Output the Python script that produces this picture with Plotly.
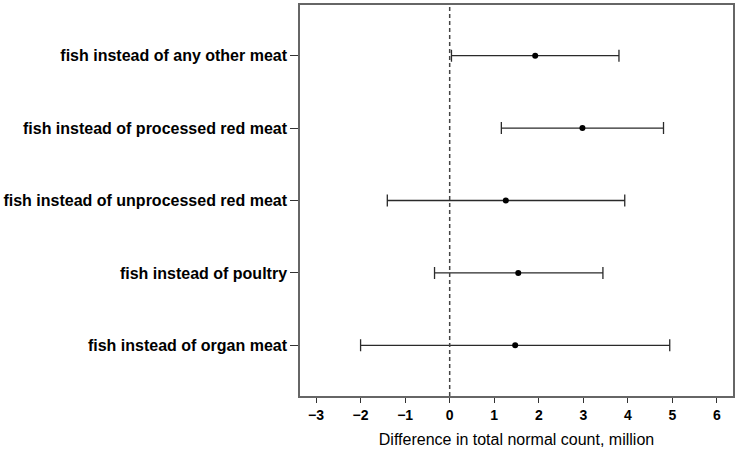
import plotly.graph_objects as go

labels = [
    "fish instead of any other meat",
    "fish instead of processed red meat",
    "fish instead of unprocessed red meat",
    "fish instead of poultry",
    "fish instead of organ meat",
]
estimate = [1.92, 2.98, 1.26, 1.54, 1.47]
lower = [0.04, 1.16, -1.40, -0.34, -2.00]
upper = [3.80, 4.80, 3.93, 3.44, 4.94]
x_ticks = [-3, -2, -1, 0, 1, 2, 3, 4, 5, 6]

err_plus = [u - e for u, e in zip(upper, estimate)]
err_minus = [e - l for e, l in zip(estimate, lower)]

fig = go.Figure()
fig.add_trace(go.Scatter(
    x=estimate, y=labels, mode="markers",
    marker=dict(color="black", size=6),
    error_x=dict(type="data", symmetric=False, array=err_plus, arrayminus=err_minus,
                 color="#2a2a2a", thickness=1.3, width=6),
    showlegend=False,
))

fig.add_shape(type="line", x0=0, x1=0, xref="x", y0=0, y1=1, yref="paper",
              line=dict(color="#444444", width=1.5, dash="4px,3px"))

fig.update_layout(
    width=738, height=450,
    margin=dict(l=295, r=3, t=4, b=54),
    plot_bgcolor="white", paper_bgcolor="white",
    font=dict(family="Liberation Sans, Arial, sans-serif", color="black"),
    xaxis=dict(
        range=[-3.36, 6.36], tickvals=x_ticks,
        ticktext=["\u2212" + str(-v) if v < 0 else str(v) for v in x_ticks],
        showgrid=False, zeroline=False,
        showline=True, linecolor="#666666", linewidth=1.5, mirror=True,
        ticks="outside", ticklen=5, tickcolor="#333333",
        tickfont=dict(size=14, family="Liberation Sans, Arial, sans-serif", weight="bold"),
        title=dict(text="Difference in total normal count, million",
                   font=dict(size=16), standoff=12),
    ),
    yaxis=dict(
        type="category", categoryorder="array", categoryarray=labels[::-1],
        range=[-0.7, 4.7],
        showgrid=False, zeroline=False,
        showline=True, linecolor="#666666", linewidth=1.5, mirror=True,
        ticks="outside", ticklen=8, tickcolor="#333333",
        tickfont=dict(size=16, family="Liberation Sans, Arial, sans-serif", weight="bold"),
    ),
)

fig.write_html("out.html", config={"displayModeBar": False},
               post_script="document.body.style.margin='0';document.body.style.overflow='hidden';")
